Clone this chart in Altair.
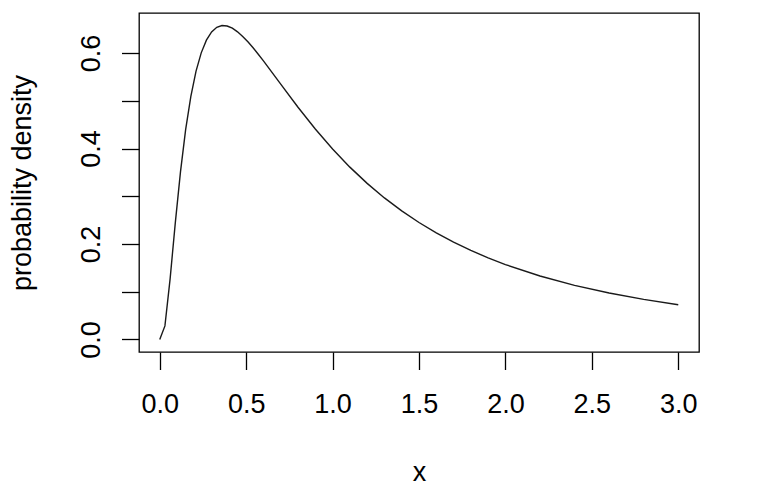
import altair as alt
import pandas as pd

# values
xs = [0.0, 0.03, 0.06, 0.09, 0.12, 0.15, 0.18, 0.21, 0.24, 0.27, 0.30, 0.33, 0.36,
      0.39, 0.42, 0.45, 0.48, 0.51, 0.54, 0.57, 0.60, 0.70, 0.80, 0.90, 1.0,
      1.1, 1.2, 1.3, 1.4, 1.5, 1.6, 1.7, 1.8, 1.9, 2.0, 2.2, 2.4, 2.6, 2.8, 3.0]
ys = [0.0, 0.0283, 0.127, 0.2442, 0.3512, 0.4399, 0.5093, 0.5622, 0.6004, 0.6271,
      0.6442, 0.6539, 0.6576, 0.6566, 0.6520, 0.6445, 0.6348, 0.6236, 0.6110,
      0.5976, 0.5836, 0.5348, 0.4864, 0.4408, 0.3989, 0.3610, 0.3270, 0.2965,
      0.2693, 0.2450, 0.2233, 0.2039, 0.1865, 0.1709, 0.1569, 0.1329, 0.1133,
      0.0972, 0.0839, 0.0727]
x_ticks = [0.0, 0.5, 1.0, 1.5, 2.0, 2.5, 3.0]
y_ticks = [0.0, 0.1, 0.2, 0.3, 0.4, 0.5, 0.6]

df = pd.DataFrame({"x": xs, "y": ys})

FONT = "Liberation Sans"
W, H = 560, 339

chart = alt.Chart(df).mark_line(color="#1a1a1a", strokeWidth=1.4).encode(
    x=alt.X("x:Q",
            scale=alt.Scale(domain=[-0.12, 3.12], nice=False, zero=False),
            axis=alt.Axis(values=x_ticks, format=".1f", title="x", grid=False,
                          domain=False, tickSize=17.5, tickWidth=1.3, tickColor="#000",
                          labelFont=FONT, labelFontSize=27, labelColor="#000",
                          labelBaseline="alphabetic", labelPadding=42.5,
                          labelFlush=False, labelOverlap=False,
                          titleFont=FONT, titleFontSize=27, titleFontWeight="normal",
                          titleColor="#000", titleBaseline="alphabetic",
                          titleX=W / 2, titleY=128)),
    y=alt.Y("y:Q",
            scale=alt.Scale(domain=[-0.0263, 0.6839], nice=False, zero=False),
            axis=alt.Axis(values=y_ticks, format=".1f", title="probability density",
                          grid=False, domain=False, tickSize=17.5, tickWidth=1.3,
                          tickColor="#000",
                          labelExpr="round(datum.value*10) % 2 == 0 ? datum.label : ''",
                          labelAngle=-90, labelAlign="center", labelBaseline="alphabetic",
                          labelPadding=22.5, labelFlush=False, labelOverlap=False,
                          labelFont=FONT, labelFontSize=27, labelColor="#000",
                          titleFont=FONT, titleFontSize=27, titleFontWeight="normal",
                          titleColor="#000", titleAngle=-90, titleAlign="center",
                          titleBaseline="alphabetic", titleX=-109, titleY=H / 2)),
).properties(
    width=W, height=H,
    autosize=alt.AutoSizeParams(type="none"),
    padding={"left": 131, "top": 5, "right": 55, "bottom": 133},
).configure(background="white").configure_view(stroke="#000", strokeWidth=1.3)

chart.save("out.html", embed_options={"renderer": "svg", "actions": False})
